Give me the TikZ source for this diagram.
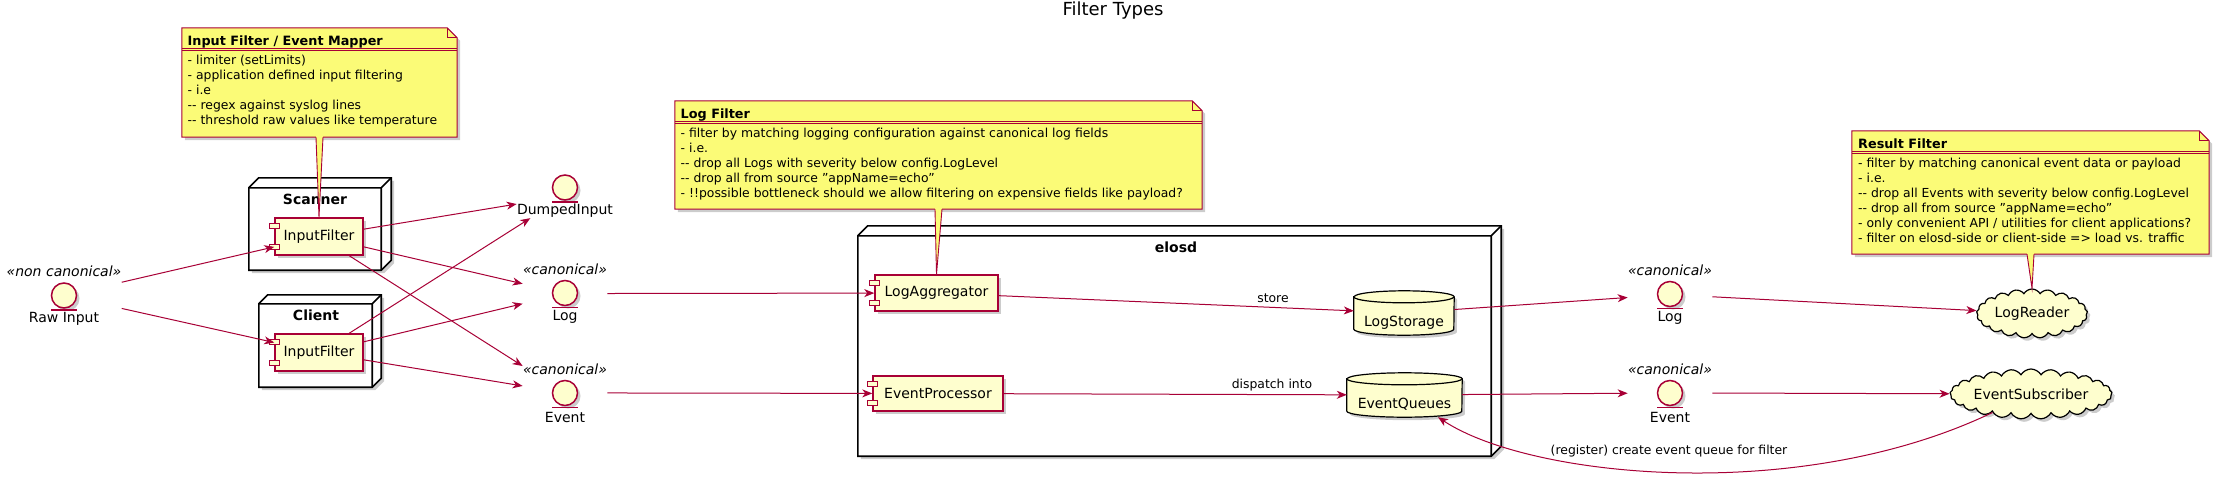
\documentclass[tikz,border=0pt]{standalone}
\usepackage{fontspec}
\setmainfont{DejaVu Sans}
\usetikzlibrary{arrows.meta,shapes.symbols,shadows,fit}
\definecolor{pred}{HTML}{A80036}
\definecolor{pfill}{HTML}{FEFECE}
\definecolor{nfill}{HTML}{FBFB77}
\newcommand\fsName{\fontsize{14}{16}\selectfont}
\newcommand\fsNote{\fontsize{12.4}{15}\selectfont}
\newcommand\fsNoteT{\fontsize{12.8}{15}\selectfont\bfseries}
\newcommand\fsLab{\fontsize{12.4}{15}\selectfont}
\newcommand\dd{\mbox{-}\mbox{-}}
\newcommand\ports[1]{%
  \draw[port] ([yshift=-9pt]#1.north west) ++(-5pt,-2.5pt) rectangle ++(10pt,5pt);
  \draw[port] ([yshift=9pt]#1.south west) ++(-5pt,-2.5pt) rectangle ++(10pt,5pt);}
\newcommand\boxthreed[2]{%
  \draw[box3d,shd] (#1.south west) -- (#1.north west) -- ([shift={(#2,-#2)}]#1.north west)
     -- ([shift={(#2,-#2)}]#1.north east) -- ([shift={(#2,-#2)}]#1.south east) -- (#1.south east) -- cycle;
  \draw[box3d,fill=none] (#1.north west) -- (#1.north east) -- (#1.south east)
     (#1.north east) -- ([shift={(#2,-#2)}]#1.north east);}
\newcommand\notebox[1]{%
  \draw[notebg] (#1.north west) -- ([xshift=-10pt]#1.north east) -- ([yshift=-10pt]#1.north east)
     -- (#1.south east) -- (#1.south west) -- cycle;
  \draw[pred,line width=1pt] ([xshift=-10pt]#1.north east) -- ([xshift=-10pt,yshift=-10pt]#1.north east)
     -- ([yshift=-10pt]#1.north east);
  \draw[pred,line width=0.9pt] ([yshift=-20.7pt]#1.north west) -- ([yshift=-20.7pt]#1.north east);
  \draw[pred,line width=0.9pt] ([yshift=-22.7pt]#1.north west) -- ([yshift=-22.7pt]#1.north east);}
\newcommand\dbshape[2]{%
  \draw[dbst,shd] ([yshift=-6pt]#1.north west) -- ([yshift=6pt]#1.south west)
     arc[start angle=180,end angle=360,x radius=#2pt,y radius=6pt]
     -- ([yshift=-6pt]#1.north east)
     arc[start angle=0,end angle=180,x radius=#2pt,y radius=6pt] -- cycle;
  \draw[dbst] ([yshift=-6pt]#1.north west)
     arc[start angle=180,end angle=360,x radius=#2pt,y radius=6pt];}
\newcommand\notewedge[2]{%
  \fill[nfill] ([xshift=-3.5pt,yshift=1pt]#1.south) -- (#2.north) -- ([xshift=3.5pt,yshift=1pt]#1.south) -- cycle;
  \draw[pred,line width=0.9pt] ([xshift=-3.5pt]#1.south) -- (#2.north) -- ([xshift=3.5pt]#1.south);}
\begin{document}
\begin{tikzpicture}[x=1pt,y=-1pt,
  shd/.style={drop shadow={shadow xshift=3pt,shadow yshift=-3pt,opacity=0.2,fill=black}},
  comp/.style={draw=pred,fill=pfill,line width=1.5pt,inner sep=0pt,font=\fsName,shd},
  port/.style={draw=pred,fill=pfill,line width=1pt},
  arr/.style={draw=pred,line width=1pt,-{Stealth[length=10pt,width=8pt,inset=3pt]}},
  entc/.style={circle,draw=pred,fill=pfill,line width=1.5pt,minimum size=25pt,inner sep=0pt,shd},
  entbar/.style={draw=pred,line width=1.5pt},
  etext/.style={font=\fsName,inner sep=0pt},
  stereo/.style={font=\fsName\itshape,inner sep=0pt},
  grp/.style={inner sep=0pt},
  box3d/.style={draw=black,fill=white,line width=1.6pt,line join=miter},
  btitle/.style={font=\fsName\bfseries,inner sep=0pt},
  dbst/.style={draw=black,fill=pfill,line width=1.2pt},
  cld/.style={cloud,cloud puffs=21,cloud puff arc=120,cloud ignores aspect,draw=black,fill=pfill,line width=1.2pt,font=\fsName,inner sep=0pt,shd},
  notebg/.style={draw=pred,fill=nfill,line width=1pt,shd},
  ntext/.style={font=\fsNote,anchor=base west,inner sep=0pt},
  ntitle/.style={font=\fsNoteT,anchor=base west,inner sep=0pt},
  lab/.style={font=\fsLab,inner sep=0pt}]
\fill[white] (0,0) rectangle (2220,493);
\useasboundingbox (0,0) rectangle (2220,493);

\node[font=\fontsize{18}{20}\selectfont,inner sep=0pt] (title) at (1113,11) {Filter Types};

% 3D nodes
\node[grp,minimum width=132pt,minimum height=82pt] (scanner) at (315,229) {};
\boxthreed{scanner}{10}
\node[btitle] (scannerT) at (315,199) {Scanner};
\node[grp,minimum width=113pt,minimum height=83pt] (client) at (315.5,345.5) {};
\boxthreed{client}{9}
\node[btitle] (clientT) at (316,315) {Client};
\node[grp,minimum width=633pt,minimum height=220pt] (elosd) at (1174.5,346) {};
\boxthreed{elosd}{10}
\node[btitle] (elosdT) at (1176,247) {elosd};

% components
\node[comp,minimum width=88pt,minimum height=37pt] (ifs) at (319,236.5) {InputFilter};
\ports{ifs}
\node[comp,minimum width=88pt,minimum height=37pt] (ifc) at (319,352.5) {InputFilter};
\ports{ifc}
\node[comp,minimum width=123pt,minimum height=36pt] (lagg) at (936.5,293) {LogAggregator};
\ports{lagg}
\node[comp,minimum width=130pt,minimum height=35pt] (eproc) at (938,393.5) {EventProcessor};
\ports{eproc}

% databases
\node[grp,minimum width=100pt,minimum height=44pt] (lst) at (1404,313) {};
\dbshape{lst}{50}
\node[etext] (lstT) at (1404,323) {LogStorage};
\node[grp,minimum width=115pt,minimum height=44pt] (eq) at (1404.5,395) {};
\dbshape{eq}{57.5}
\node[etext] (eqT) at (1404.5,404) {EventQueues};

% clouds
\node[cld,minimum width=111pt,minimum height=49pt] (lrd) at (2032,313.5) {LogReader};
\node[cld,minimum width=144pt,minimum height=50pt,cloud puffs=25] (esub) at (2031,394) {EventSubscriber};

% entities
\node[entc] (rawc) at (64,295.5) {};
\draw[entbar] ([xshift=-13pt,yshift=-1pt]rawc.south) -- ([xshift=13pt,yshift=-1pt]rawc.south);
\node[etext] (rawl) at (64,319) {Raw Input};
\node[stereo] (raws) at (64,271) {«non canonical»};
\node[grp,fit=(rawc)(rawl)(raws)] (raw) {};

\node[entc] (dumpc) at (565,187.5) {};
\draw[entbar] ([xshift=-13pt,yshift=-1pt]dumpc.south) -- ([xshift=13pt,yshift=-1pt]dumpc.south);
\node[etext] (dumpl) at (565,211) {DumpedInput};
\node[grp,fit=(dumpc)(dumpl)] (dump) {};

\node[entc] (loglc) at (565,293) {};
\draw[entbar] ([xshift=-13pt,yshift=-1pt]loglc.south) -- ([xshift=13pt,yshift=-1pt]loglc.south);
\node[etext] (logll) at (565,317) {Log};
\node[stereo] (logls) at (565,269) {«canonical»};
\node[grp,fit=(loglc)(logll)(logls)] (logl) {};

\node[entc] (evlc) at (565,393) {};
\draw[entbar] ([xshift=-13pt,yshift=-1pt]evlc.south) -- ([xshift=13pt,yshift=-1pt]evlc.south);
\node[etext] (evll) at (565,417) {Event};
\node[stereo] (evls) at (565,369) {«canonical»};
\node[grp,fit=(evlc)(evll)(evls)] (evl) {};

\node[entc] (logrc) at (1670,294) {};
\draw[entbar] ([xshift=-13pt,yshift=-1pt]logrc.south) -- ([xshift=13pt,yshift=-1pt]logrc.south);
\node[etext] (logrl) at (1670,318) {Log};
\node[stereo] (logrs) at (1670,270) {«canonical»};
\node[grp,fit=(logrc)(logrl)(logrs)] (logr) {};

\node[entc] (evrc) at (1670,393) {};
\draw[entbar] ([xshift=-13pt,yshift=-1pt]evrc.south) -- ([xshift=13pt,yshift=-1pt]evrc.south);
\node[etext] (evrl) at (1670,417) {Event};
\node[stereo] (evrs) at (1670,369) {«canonical»};
\node[grp,fit=(evrc)(evrl)(evrs)] (evr) {};

% connectors
\draw[arr] (raw) -- (ifs);
\draw[arr] (raw) -- (ifc);
\draw[arr] (ifs) -- (dump);
\draw[arr] (ifs) -- (logl);
\draw[arr] (ifs) -- (evl);
\draw[arr] (ifc) -- (dump);
\draw[arr] (ifc) -- (logl);
\draw[arr] (ifc) -- (evl);
\draw[arr] (logl) -- (lagg);
\draw[arr] (evl) -- (eproc);
\draw[arr] (lagg) -- (lst);
\draw[arr] (eproc) -- (eq);
\draw[arr] (lst) -- (logr);
\draw[arr] (logr) -- (lrd);
\draw[arr] (eq) -- (evr);
\draw[arr] (evr) -- (esub);
\draw[arr] (esub) .. controls (1800,505) and (1530,478) .. (eq);
\node[lab] (storeL) at (1273,298) {store};
\node[lab] (dispL) at (1272,385) {dispatch into};
\node[lab] (regL) at (1669,451) {(register) create event queue for filter};

% notes
\node[grp,minimum width=275pt,minimum height=109pt] (n1) at (319.5,82.5) {};
\notebox{n1}
\node[ntitle] (n1t) at (187.5,45) {Input Filter / Event Mapper};
\node[ntext] (n1a) at (187.5,64.5) {- limiter (setLimits)};
\node[ntext] (n1b) at (187.5,79.5) {- application defined input filtering};
\node[ntext] (n1c) at (187.5,94.5) {- i.e};
\node[ntext] (n1d) at (187.5,109.5) {\dd{} regex against syslog lines};
\node[ntext] (n1e) at (187.5,124.5) {\dd{} threshold raw values like temperature};
\notewedge{n1}{ifs}

\node[grp,minimum width=527pt,minimum height=108pt] (n2) at (938.5,155) {};
\notebox{n2}
\node[ntitle] (n2t) at (680.5,118) {Log Filter};
\node[ntext] (n2a) at (680.5,137.5) {- filter by matching logging configuration against canonical log fields};
\node[ntext] (n2b) at (680.5,152.5) {- i.e.};
\node[ntext] (n2c) at (680.5,167.5) {\dd{} drop all Logs with severity below config.LogLevel};
\node[ntext] (n2d) at (680.5,182.5) {\dd{} drop all from source "appName=echo"};
\node[ntext] (n2e) at (680.5,197.5) {- !!possible bottleneck should we allow filtering on expensive fields like payload?};
\notewedge{n2}{lagg}

\node[grp,minimum width=357pt,minimum height=123pt] (n3) at (2030.5,192.5) {};
\notebox{n3}
\node[ntitle] (n3t) at (1858,148) {Result Filter};
\node[ntext] (n3a) at (1858,167.5) {- filter by matching canonical event data or payload};
\node[ntext] (n3b) at (1858,182.5) {- i.e.};
\node[ntext] (n3c) at (1858,197.5) {\dd{} drop all Events with severity below config.LogLevel};
\node[ntext] (n3d) at (1858,212.5) {\dd{} drop all from source "appName=echo"};
\node[ntext] (n3e) at (1858,227.5) {- only convenient API / utilities for client applications?};
\node[ntext] (n3f) at (1858,242.5) {- filter on elosd-side or client-side => load vs. traffic};
\notewedge{n3}{lrd}
\end{tikzpicture}
\end{document}
